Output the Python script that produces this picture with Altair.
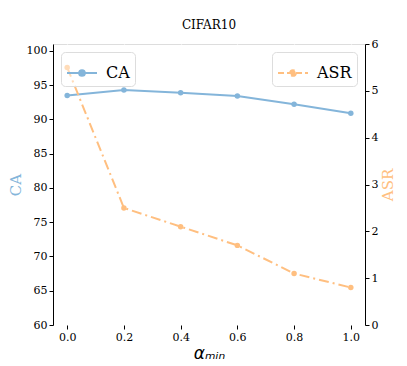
import altair as alt
import pandas as pd

alpha_min = [0.0, 0.2, 0.4, 0.6, 0.8, 1.0]
ca_values = [93.5, 94.3, 93.9, 93.4, 92.2, 90.9]
asr_values = [5.5, 2.5, 2.1, 1.7, 1.1, 0.8]

df = pd.DataFrame({"alpha": alpha_min, "CA": ca_values, "ASR": asr_values,
                   "s1": ["CA"] * 6, "s2": ["ASR"] * 6})

BLUE = "#84b5da"
ORANGE = "#ffbf80"
SERIF = "DejaVu Serif"
SYM = "M-1,0L1,0M-0.19,0A0.19,0.19,0,1,1,0.19,0A0.19,0.19,0,1,1,-0.19,0Z"

xenc = alt.X("alpha:Q", scale=alt.Scale(domain=[-0.05, 1.05], nice=False, zero=False),
             axis=alt.Axis(values=alpha_min, format=".1f", title="αₘᵢₙ",
                           titleFont="DejaVu Sans", titleFontSize=17, titleFontWeight="normal",
                           titleFontStyle="italic",
                           titlePadding=3, labelFont=SERIF, labelFontSize=11, labelColor="black",
                           tickColor="black", domain=False, gridColor="white", gridWidth=1.2,
                           tickSize=4))

def legend(orient):
    left = orient == "top-left"
    return alt.Legend(title=None, orient=orient, offset=8, fillColor="rgba(255,255,255,0.45)",
                      strokeColor="#dddddd", cornerRadius=4, padding=5,
                      labelFont=SERIF, labelFontSize=16, labelColor="black",
                      symbolType=SYM, symbolSize=900, symbolStrokeWidth=2,
                      symbolDash=[] if left else [6, 3],
                      symbolFillColor=BLUE if left else ORANGE,
                      symbolStrokeColor=BLUE if left else ORANGE,
                      labelOffset=8)

def yaxis(orient, vals, title, color):
    extra = {"titleBaseline": "top"} if orient == "right" else {}
    return alt.Axis(orient=orient, values=vals, title=title, titleColor=color,
                    titleFont=SERIF, titleFontSize=15, titleFontWeight="normal",
                    titleAngle=270,
                    labelFont=SERIF, labelFontSize=11, labelColor="black",
                    domainColor="black", tickColor="black", tickSize=4,
                    gridColor="white", gridWidth=1.2, titlePadding=3, **extra)

ca = alt.Chart(df).mark_line(strokeWidth=2, point=alt.OverlayMarkDef(size=30, filled=True, opacity=1)).encode(
    x=xenc,
    y=alt.Y("CA:Q", scale=alt.Scale(domain=[60, 101], nice=False, zero=False),
            axis=yaxis("left", list(range(60, 101, 5)), "CA", BLUE)),
    color=alt.Color("s1:N", scale=alt.Scale(domain=["CA"], range=[BLUE]), legend=legend("top-left")),
)

asr = alt.Chart(df).mark_line(strokeWidth=2, strokeDash=[10, 4, 2, 4],
                               point=alt.OverlayMarkDef(size=30, filled=True, opacity=1)).encode(
    x=xenc,
    y=alt.Y("ASR:Q", scale=alt.Scale(domain=[0, 6], nice=False),
            axis=yaxis("right", list(range(0, 7)), "ASR", ORANGE)),
    color=alt.Color("s2:N", scale=alt.Scale(domain=["ASR"], range=[ORANGE]), legend=legend("top-right")),
)

chart = alt.layer(ca, asr).resolve_scale(y="independent", color="independent").resolve_legend(
    color="independent").properties(
    width=312, height=281,
    padding={"left": 0, "top": 11, "right": 0, "bottom": 0},
    title=alt.TitleParams("CIFAR10", font=SERIF, fontSize=12, fontWeight="normal", color="black", offset=6),
).configure_view(fill="#f0f0f0", stroke="#333333", strokeWidth=1.2).configure(background="white")

chart.save("out.html", embed_options={"renderer": "svg", "actions": False})
